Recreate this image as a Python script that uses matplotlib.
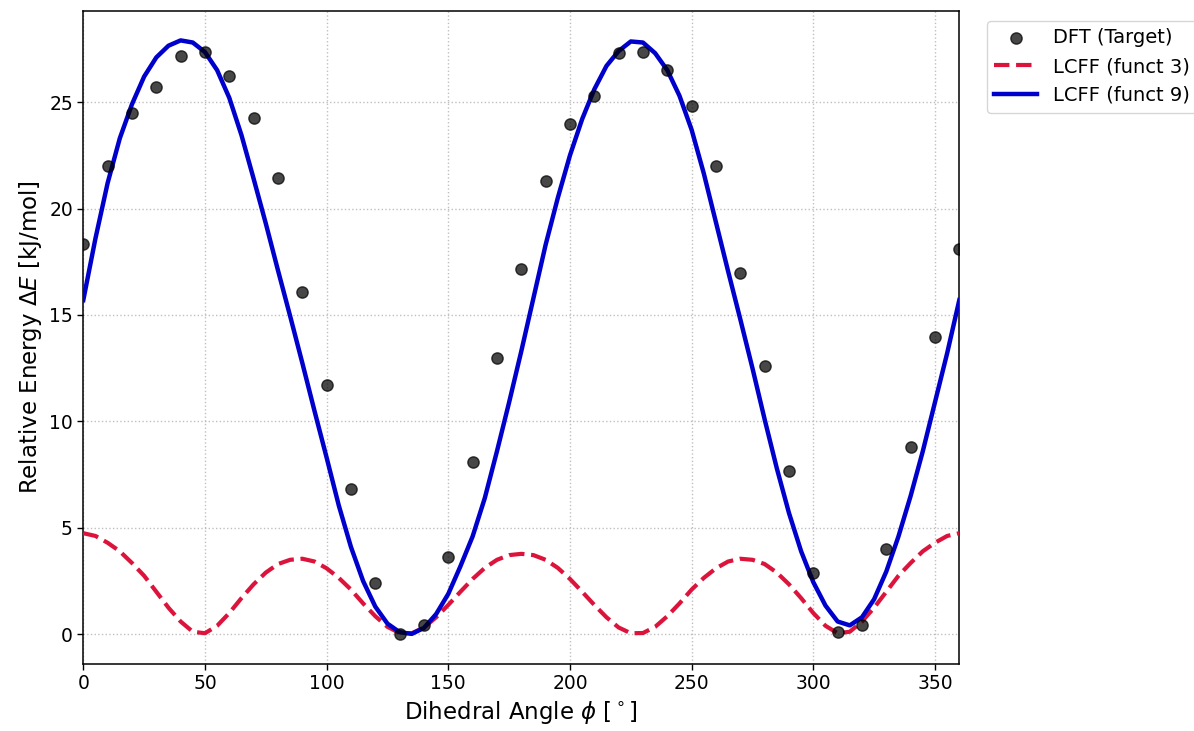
import numpy as np
import matplotlib
matplotlib.use("Agg")
import matplotlib.pyplot as plt

# --- DFT target scan (every 10 degrees) ---
dft_angle = np.arange(0, 361, 10)
dft_energy = [18.32, 22.0, 24.5, 25.72, 27.18, 27.34, 26.21, 24.25, 21.44, 16.08,
              11.73, 6.81, 2.39, 0.0, 0.42, 3.61, 8.08, 12.97, 17.15, 21.29,
              23.98, 25.3, 27.29, 27.34, 26.52, 24.81, 22.0, 16.99, 12.62, 7.68,
              2.9, 0.11, 0.46, 4.0, 8.82, 13.96, 18.1]

# --- LCFF fitted curves (read every 5 degrees) ---
fit_angle = np.arange(0, 361, 5)
funct3 = [4.75, 4.62, 4.3, 3.9, 3.35, 2.75, 2.0, 1.25, 0.6, 0.12,
          0.05, 0.4, 1.0, 1.7, 2.35, 2.9, 3.3, 3.5, 3.55, 3.42,
          3.1, 2.65, 2.1, 1.45, 0.85, 0.35, 0.06, 0.05, 0.32, 0.8,
          1.38, 2.0, 2.6, 3.12, 3.5, 3.72, 3.78, 3.72, 3.5, 3.12,
          2.6, 2.0, 1.38, 0.8, 0.32, 0.05, 0.06, 0.35, 0.85, 1.45,
          2.1, 2.65, 3.1, 3.42, 3.55, 3.5, 3.3, 2.9, 2.35, 1.7,
          1.0, 0.4, 0.05, 0.12, 0.6, 1.25, 2.0, 2.75, 3.35, 3.9,
          4.3, 4.62, 4.75]
funct9 = [15.7, 18.6, 21.2, 23.3, 24.9, 26.2, 27.1, 27.65, 27.9, 27.8,
          27.35, 26.5, 25.2, 23.45, 21.4, 19.3, 17.1, 14.95, 12.75, 10.5,
          8.3, 6.05, 4.1, 2.5, 1.3, 0.5, 0.1, 0.02, 0.3, 0.95,
          1.9, 3.2, 4.6, 6.4, 8.6, 10.9, 13.3, 15.8, 18.3, 20.5,
          22.5, 24.2, 25.6, 26.7, 27.4, 27.85, 27.8, 27.3, 26.5, 25.3,
          23.7, 21.65, 19.35, 17.05, 14.8, 12.5, 10.1, 7.8, 5.7, 3.9,
          2.45, 1.35, 0.6, 0.42, 0.8, 1.65, 2.95, 4.6, 6.5, 8.6,
          10.9, 13.2, 15.7]

fig = plt.figure(figsize=(11.94, 7.31), dpi=100)
ax = fig.add_axes([83.3 / 1194, 1 - 664 / 731, (959.3 - 83.3) / 1194, (664 - 10.7) / 731])

ax.scatter(dft_angle, dft_energy, s=66, color="black", alpha=0.72,
           label="DFT (Target)", zorder=4)
ax.plot(fit_angle, funct3, linestyle="--", color="#DC143C", lw=3.0,
        label="LCFF (funct 3)", zorder=3)
ax.plot(fit_angle, funct9, linestyle="-", color="#0000CC", lw=3.2,
        label="LCFF (funct 9)", zorder=3)

ax.set_xlim(0, 360)
ax.set_xlabel(r"Dihedral Angle $\phi$ [$^\circ$]", fontsize=16.5)
ax.set_ylabel(r"Relative Energy $\Delta E$ [kJ/mol]", fontsize=16.5)
ax.tick_params(labelsize=13.5, length=4, width=1)
ax.grid(True, linestyle=":", color="#b0b0b0", alpha=0.8, lw=1)
for sp in ax.spines.values():
    sp.set_linewidth(1.1)

ax.legend(loc="upper left", bbox_to_anchor=(986.7 / 1194, 1 - 20.7 / 731),
          bbox_transform=fig.transFigure, borderaxespad=0, fontsize=14,
          handlelength=2.2, frameon=True)

fig.savefig("out.png", dpi=100)
